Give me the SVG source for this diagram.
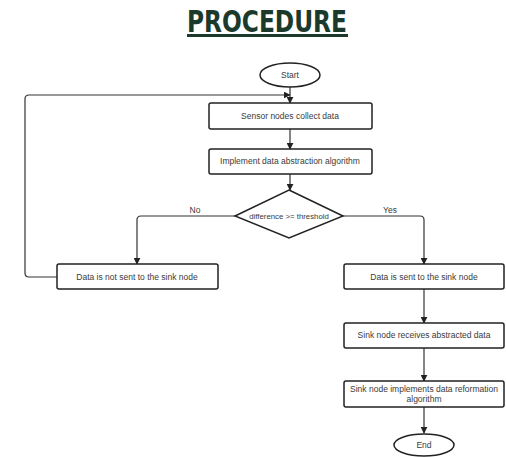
<svg xmlns="http://www.w3.org/2000/svg" width="506" height="457" viewBox="0 0 506 457">
<defs>
<marker id="arr" viewBox="0 0 10 10" refX="9" refY="5" markerWidth="7" markerHeight="7" markerUnits="userSpaceOnUse" orient="auto">
<path d="M0,0 L10,5 L0,10 z" fill="#222"/>
</marker>
<style>
.box{fill:#fff;stroke:#222;stroke-width:1.5}
.ln{fill:none;stroke:#333;stroke-width:1.2}
.t{font-family:"Liberation Sans",Arial,sans-serif;font-size:8.5px;fill:#3a3a3a;text-anchor:middle}
</style>
</defs>
<rect width="506" height="457" fill="#fff"/>
<g id="title">
<text x="267" y="32" font-family="DejaVu Sans Condensed, DejaVu Sans, sans-serif" font-weight="bold" font-size="30" fill="#1b3a2c" text-anchor="middle" textLength="160" lengthAdjust="spacingAndGlyphs">PROCEDURE</text>
<rect x="187" y="34" width="161" height="3" fill="#1b3a2c"/>
</g>
<g id="connectors">
<path class="ln" d="M290,87 V103" marker-end="url(#arr)"/>
<path class="ln" d="M57,277 H29 Q25,277 25,273 V99 Q25,95 29,95 H290" marker-end="url(#arr)"/>
<path class="ln" d="M290,129 V149" marker-end="url(#arr)"/>
<path class="ln" d="M290,174 V190" marker-end="url(#arr)"/>
<path class="ln" d="M235,216 H141 Q137,216 137,220 V264" marker-end="url(#arr)"/>
<path class="ln" d="M343,216 H420 Q424,216 424,220 V264" marker-end="url(#arr)"/>
<path class="ln" d="M424,289 V323" marker-end="url(#arr)"/>
<path class="ln" d="M424,348 V381" marker-end="url(#arr)"/>
<path class="ln" d="M424,407 V433" marker-end="url(#arr)"/>
<text class="t" x="195" y="213">No</text>
<text class="t" x="390" y="213">Yes</text>
</g>
<g id="start">
<ellipse class="box" cx="290" cy="75" rx="30" ry="12"/>
<text class="t" x="290" y="78">Start</text>
</g>
<g id="collect">
<rect class="box" x="209" y="103" width="163" height="26" rx="2"/>
<text class="t" x="290" y="119">Sensor nodes collect data</text>
</g>
<g id="abstract">
<rect class="box" x="209" y="149" width="163" height="25" rx="2"/>
<text class="t" x="290" y="164">Implement data abstraction algorithm</text>
</g>
<g id="decision">
<polygon class="box" points="289,190 343,216 289,238 235,216"/>
<text class="t" x="289" y="219" style="font-size:7.8px">difference &gt;= threshold</text>
</g>
<g id="notsent">
<rect class="box" x="57" y="264" width="161" height="25" rx="2"/>
<text class="t" x="137" y="280">Data is not sent to the sink node</text>
</g>
<g id="sent">
<rect class="box" x="344" y="264" width="160" height="25" rx="2"/>
<text class="t" x="424" y="280">Data is sent to the sink node</text>
</g>
<g id="receives">
<rect class="box" x="344" y="323" width="160" height="25" rx="2"/>
<text class="t" x="424" y="338">Sink node receives abstracted data</text>
</g>
<g id="reformation">
<rect class="box" x="344" y="381" width="160" height="26" rx="2"/>
<text class="t" x="424" y="392">Sink node implements data reformation</text>
<text class="t" x="424" y="402">algorithm</text>
</g>
<g id="end">
<ellipse class="box" cx="424" cy="445" rx="30" ry="11"/>
<text class="t" x="424" y="448">End</text>
</g>
</svg>
